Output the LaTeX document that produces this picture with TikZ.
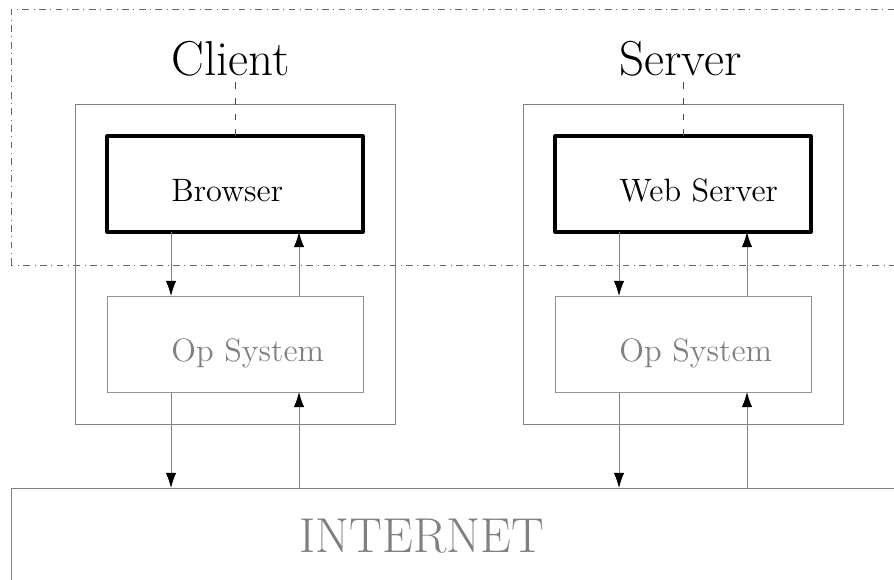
\documentclass[tikz,border=0pt]{standalone}
\usepackage{tikz}
\usetikzlibrary{arrows.meta}
\tikzset{
  hostbox/.style={draw=gray,line width=0.4pt,anchor=south west,inner sep=0pt,
    outer sep=0pt,minimum width=5cm,minimum height=5cm},
  appbox/.style={draw=black,line width=1.4pt,line join=round,anchor=south west,
    inner sep=0pt,outer sep=0pt,minimum width=4cm,minimum height=1.5cm},
  osbox/.style={draw=gray!85,line width=0.4pt,anchor=south west,inner sep=0pt,
    outer sep=0pt,minimum width=4cm,minimum height=1.5cm},
  boxlabel/.style={anchor=base west,inner sep=0pt,font=\Large},
  titlelabel/.style={anchor=base west,inner sep=0pt,font=\fontsize{21.8}{26}\selectfont},
  flow/.style={draw=gray,line width=0.4pt,
    -{Latex[length=6.7pt,width=4.6pt,color=black]}},
}

\begin{document}
\begin{tikzpicture}[x=0.5cm,y=0.5cm]
  \clip (-0.344,-2.875) rectangle (27.594,15.25);
  % user side
  \draw[gray!80!black,line width=0.4pt,dash dot] (0,6.97) rectangle (29,14.94);
  \node[draw=gray,line width=0.4pt,anchor=north west,inner sep=0pt,outer sep=0pt,
    minimum width=15cm,minimum height=2.5cm] (internet) at (0,0) {};
  \node[titlelabel,text=gray] (internetlbl) at (9,-2.03) {INTERNET};
  \foreach \pre/\x/\app/\ttl in {client/2/Browser/Client,server/16/Web Server/Server}{
    \node[hostbox] (\pre host) at (\x,2) {};
    \node[appbox] (\pre app) at (\x+1,8) {};
    \node[osbox] (\pre os) at (\x+1,3) {};
    \node[boxlabel] (\pre applbl) at (\x+3,8.95) {\app};
    \node[boxlabel,text=gray] (\pre oslbl) at (\x+3,3.95) {Op System};
    \node[titlelabel] (\pre title) at (\x+3,12.9) {\ttl};
    \draw[gray!60!black,line width=0.4pt,dash pattern=on 3pt off 4pt]
      (\pre app.north) -- ([yshift=1.5pt]\pre app.north |- \pre title.south);
    \draw[flow] ([xshift=-1cm]\pre app.south) -- ([xshift=-1cm]\pre os.north);
    \draw[flow] ([xshift=1cm]\pre os.north) -- ([xshift=1cm]\pre app.south);
    \draw[flow] ([xshift=-1cm]\pre os.south) -- ([xshift=-1cm]\pre os.south |- internet.north);
    \draw[flow] ([xshift=1cm]\pre os.south |- internet.north) -- ([xshift=1cm]\pre os.south);
  }
\end{tikzpicture}
\end{document}
